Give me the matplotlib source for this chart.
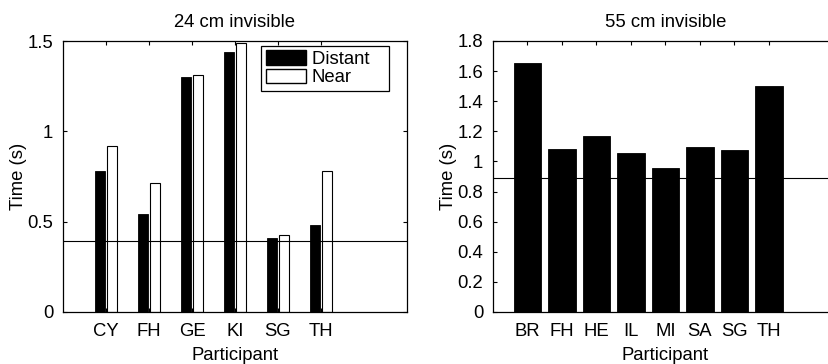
import matplotlib.pyplot as plt
from matplotlib.patches import Patch
from matplotlib.ticker import FuncFormatter

plt.rcParams['font.family'] = ['Liberation Sans', 'DejaVu Sans']
FS = 13.3
plt.rcParams['font.size'] = FS

# left panel: 24 cm invisible
left_names = ['CY', 'FH', 'GE', 'KI', 'SG', 'TH']
distant = [0.78, 0.54, 1.30, 1.44, 0.41, 0.48]
near = [0.92, 0.715, 1.31, 1.49, 0.426, 0.783]
left_ref = 0.395

# right panel: 55 cm invisible
right_names = ['BR', 'FH', 'HE', 'IL', 'MI', 'SA', 'SG', 'TH']
right_vals = [1.655, 1.085, 1.168, 1.057, 0.955, 1.099, 1.075, 1.499]
right_ref = 0.893

W, H = 829, 364
fig = plt.figure(figsize=(W / 100, H / 100), dpi=100)


def axes_px(l, r, t, b):
    return fig.add_axes([l / W, 1 - b / H, (r - l) / W, (b - t) / H])


def style(ax):
    ax.tick_params(direction='in', length=3, width=0.8, top=True, right=True,
                   labelsize=FS)
    ax.tick_params(axis='x', pad=8)
    ax.tick_params(axis='y', pad=7)
    for s in ax.spines.values():
        s.set_linewidth(0.9)
    ax.yaxis.set_major_formatter(FuncFormatter(lambda v, p: f'{v:g}'))


# --- left
ax1 = axes_px(63, 407, 41, 312)
xl = range(1, len(left_names) + 1)
ax1.bar([x - 0.145 for x in xl], distant, width=0.23, color='black',
        edgecolor='black', linewidth=0.6, label='Distant')
ax1.bar([x + 0.145 for x in xl], near, width=0.23, color='white',
        edgecolor='black', linewidth=0.8, label='Near')
ax1.axhline(left_ref, color='black', linewidth=0.8)
ax1.set_xlim(0, 8)
ax1.set_ylim(0, 1.5)
ax1.set_xticks(list(xl))
ax1.set_xticklabels(left_names)
ax1.set_yticks([0, 0.5, 1, 1.5])
style(ax1)
ax1.set_title('24 cm invisible', fontsize=FS, pad=10)
ax1.set_xlabel('Participant', labelpad=5)
ax1.set_ylabel('Time (s)', labelpad=0)
handles = [Patch(facecolor='black', edgecolor='black', label='Distant   '),
           Patch(facecolor='white', edgecolor='black', label='Near')]
leg = ax1.legend(handles=handles, loc='upper right',
                 bbox_to_anchor=(0.948, 0.982), fancybox=False,
                 edgecolor='black', framealpha=1, handlelength=2.16,
                 handleheight=0.8, handletextpad=0.33, borderpad=0.25,
                 labelspacing=0.05, borderaxespad=0, fontsize=FS)
leg.get_frame().set_linewidth(0.9)

# --- right
ax2 = axes_px(493, 838, 41, 312)
xr = range(1, len(right_names) + 1)
ax2.bar(list(xr), right_vals, width=0.8, color='black', edgecolor='black',
        linewidth=0.6)
ax2.axhline(right_ref, color='black', linewidth=0.8)
ax2.set_xlim(0, 10)
ax2.set_ylim(0, 1.8)
ax2.set_xticks(list(xr))
ax2.set_xticklabels(right_names)
ax2.set_yticks([0, 0.2, 0.4, 0.6, 0.8, 1, 1.2, 1.4, 1.6, 1.8])
style(ax2)
ax2.set_title('55 cm invisible', fontsize=FS, pad=10)
ax2.set_xlabel('Participant', labelpad=5)
ax2.set_ylabel('Time (s)', labelpad=0)

fig.savefig('out.png', dpi=100)
